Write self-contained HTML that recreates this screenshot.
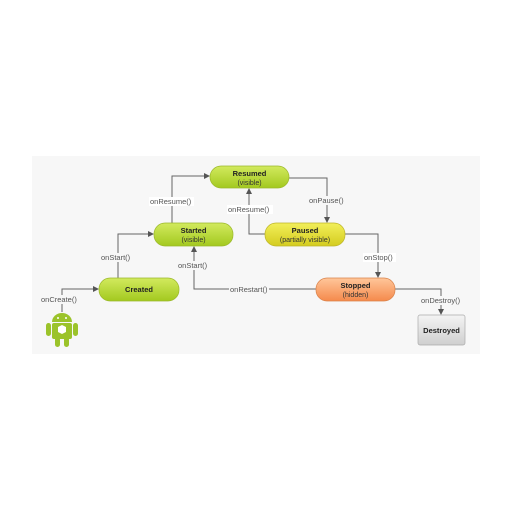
<!DOCTYPE html>
<html><head><style>
html,body{margin:0;padding:0;background:#fff;}
svg{display:block;}
text{font-family:"Liberation Sans",sans-serif;}
.lbl{font-size:7.5px;fill:#555;}
.nt{font-size:7.5px;font-weight:bold;fill:#222;text-anchor:middle;}
.ns{font-size:7px;fill:#333;text-anchor:middle;}
.ln{fill:none;stroke:#666;stroke-width:1;}
</style></head><body>
<svg width="512" height="512" viewBox="0 0 512 512" xmlns="http://www.w3.org/2000/svg">
<defs>
<linearGradient id="g" x1="0" y1="0" x2="0" y2="1"><stop offset="0" stop-color="#d2ea5e"/><stop offset="1" stop-color="#a3c91f"/></linearGradient>
<linearGradient id="y" x1="0" y1="0" x2="0" y2="1"><stop offset="0" stop-color="#f2ef5a"/><stop offset="1" stop-color="#d4cc1f"/></linearGradient>
<linearGradient id="o" x1="0" y1="0" x2="0" y2="1"><stop offset="0" stop-color="#ffc69a"/><stop offset="1" stop-color="#f58a4c"/></linearGradient>
<linearGradient id="d" x1="0" y1="0" x2="0" y2="1"><stop offset="0" stop-color="#f4f4f4"/><stop offset="1" stop-color="#cfcfcf"/></linearGradient>
<marker id="a" markerWidth="6" markerHeight="6" refX="5" refY="3" orient="auto" markerUnits="userSpaceOnUse"><path d="M0,0 L6,3 L0,6z" fill="#555"/></marker>
</defs>
<rect x="32" y="156" width="448" height="198" fill="#f7f7f7"/>
<!-- connectors -->
<path class="ln" d="M62,312 V289 H98" marker-end="url(#a)"/>
<path class="ln" d="M118,278 V234 H153" marker-end="url(#a)"/>
<path class="ln" d="M172,223 V176 H209" marker-end="url(#a)"/>
<path class="ln" d="M289,178 H327 V222" marker-end="url(#a)"/>
<path class="ln" d="M265,234 H249 V189" marker-end="url(#a)"/>
<path class="ln" d="M345,234 H378 V277" marker-end="url(#a)"/>
<path class="ln" d="M316,289 H194 V247" marker-end="url(#a)"/>
<path class="ln" d="M395,289 H441 V314" marker-end="url(#a)"/>
<!-- labels -->
<g class="lbl">
<rect x="40" y="295" width="39" height="9" fill="#f7f7f7"/><text x="41" y="302">onCreate()</text>
<rect x="100" y="253" width="33" height="9" fill="#f7f7f7"/><text x="101" y="260">onStart()</text>
<rect x="149" y="197" width="45" height="9" fill="#fff"/><text x="150" y="204">onResume()</text>
<rect x="308" y="196" width="38" height="9" fill="#f7f7f7"/><text x="309" y="203">onPause()</text>
<rect x="227" y="205" width="46" height="9" fill="#fff"/><text x="228" y="212">onResume()</text>
<rect x="363" y="253" width="33" height="9" fill="#fff"/><text x="364" y="260">onStop()</text>
<rect x="178" y="261" width="32" height="9" fill="#f7f7f7"/><text x="178" y="268">onStart()</text>
<rect x="229" y="285" width="40" height="9" fill="#f7f7f7"/><text x="230" y="292">onRestart()</text>
<rect x="420" y="296" width="43" height="9" fill="#f7f7f7"/><text x="421" y="303">onDestroy()</text>
</g>
<!-- nodes -->
<rect x="210" y="166" width="79" height="22" rx="11" fill="url(#g)" stroke="#9bb82a" stroke-width="0.7"/>
<text class="nt" x="249.5" y="176">Resumed</text><text class="ns" x="249.5" y="185">(visible)</text>
<rect x="154" y="223" width="79" height="23" rx="11" fill="url(#g)" stroke="#9bb82a" stroke-width="0.7"/>
<text class="nt" x="193.5" y="233">Started</text><text class="ns" x="193.5" y="242">(visible)</text>
<rect x="99" y="278" width="80" height="23" rx="11" fill="url(#g)" stroke="#9bb82a" stroke-width="0.7"/>
<text class="nt" x="139" y="292">Created</text>
<rect x="265" y="223" width="80" height="23" rx="11" fill="url(#y)" stroke="#bdb52a" stroke-width="0.7"/>
<text class="nt" x="305" y="233">Paused</text><text class="ns" x="305" y="242">(partially visible)</text>
<rect x="316" y="278" width="79" height="23" rx="11" fill="url(#o)" stroke="#d9824a" stroke-width="0.7"/>
<text class="nt" x="355.5" y="288">Stopped</text><text class="ns" x="355.5" y="297">(hidden)</text>
<rect x="418" y="315" width="47" height="30" rx="2" fill="url(#d)" stroke="#aaa" stroke-width="0.7"/>
<text class="nt" x="441.5" y="333">Destroyed</text>
<!-- android -->
<g fill="#9bc32a">
<path d="M52,322 a10,9 0 0 1 20,0 z"/>
<rect x="52" y="323" width="20" height="16" rx="2"/>
<rect x="46" y="323" width="5" height="13" rx="2.5"/>
<rect x="73" y="323" width="5" height="13" rx="2.5"/>
<rect x="55" y="337" width="5" height="10" rx="2.5"/>
<rect x="64" y="337" width="5" height="10" rx="2.5"/>
</g>
<circle cx="58" cy="318" r="1" fill="#fff"/><circle cx="66" cy="318" r="1" fill="#fff"/>
<path d="M58,327 l4,-2 l4,2 v5 l-4,2 l-4,-2z" fill="#fff"/>
</svg>
</body></html>
